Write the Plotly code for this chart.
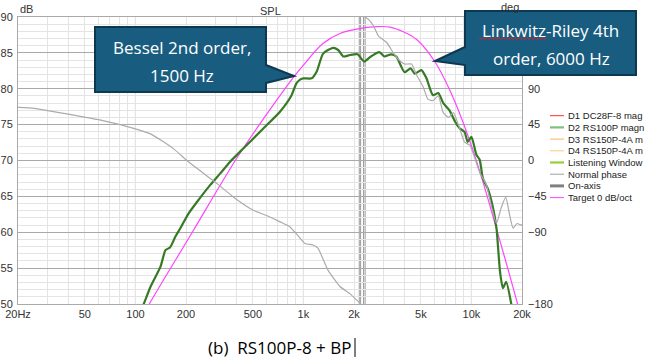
import math
import plotly.graph_objects as go

# ---------------- data ----------------
X_TICKS = [20, 50, 100, 200, 500, 1000, 2000, 5000, 10000, 20000]
X_LABELS = ["20Hz", "50", "100", "200", "500", "1k", "2k", "5k", "10k", "20k"]
X_MINOR = [30, 40, 60, 70, 80, 90, 300, 400, 600, 700, 800, 900,
           3000, 4000, 6000, 7000, 8000, 9000]
DECADES = [100, 1000, 10000]
MARKERS = [2150, 2190, 2280, 2330]
DB_TICKS = [50, 55, 60, 65, 70, 75, 80, 85, 90]
DEG_TICKS = [-180, -135, -90, -45, 0, 45, 90]

# measured SPL (dark green)
MEAS_F = [105, 112, 123, 141, 151, 161, 173, 185, 207, 233, 279, 320, 365, 440,
          579, 725, 850, 908, 960, 1000, 1120, 1200, 1310, 1500, 1610, 1730,
          1890, 2100, 2300, 2520, 2830, 3030, 3330, 3570, 3820, 4000, 4350,
          4600, 5040, 5400, 5900, 6350, 6800, 7400, 8000, 8500, 9100, 9500,
          10000, 10700, 11200, 11700, 12500, 13400, 14100, 14800, 15400,
          16100, 17300, 18000]
MEAS_DB = [48.5, 50.0, 52.4, 55.2, 57.5, 57.9, 59.4, 60.55, 62.6, 64.25, 66.6,
           68.2, 69.8, 71.7, 74.5, 76.8, 79.1, 80.75, 81.3, 81.45, 81.45, 82.4,
           84.9, 85.7, 85.4, 84.5, 84.7, 84.8, 83.8, 84.5, 85.1, 84.5, 84.8,
           84.5, 83.1, 82.3, 82.85, 82.1, 82.6, 81.45, 79.1, 79.4, 78.0, 77.0,
           75.4, 74.5, 74.0, 72.6, 73.3, 70.8, 70.1, 67.5, 66.1, 63.55, 60.55,
           54.5, 52.2, 53.1, 49.9, 47.5]

# target curve (magenta)
TARGET_F = [115, 121, 218, 393, 572, 893, 1000, 1307, 1650, 2070, 2720, 3280,
            3930, 4700, 6050, 7500, 9500, 11700, 14070, 16900, 18900, 20000]
TARGET_DB = [49.0, 50.0, 60.0, 70.0, 75.65, 81.9, 83.3, 86.3, 87.7, 88.3, 88.65,
             88.6, 87.95, 86.9, 83.8, 79.6, 73.55, 67.05, 60.55, 54.0, 49.9, 48.0]

# normal phase (grey, right axis, degrees)
PHASE_F = [20, 25, 39, 64, 93, 123, 169, 205, 306, 384, 504, 604, 726, 829,
           908, 1020, 1140, 1220, 1400, 1650, 1890, 2170, 2200, None,
           2330, 2440, 2610, 2800, 3130, 3430, 3670, 4000, 4400, 4700, 5170,
           5500, 5900, 6350, 6800, 7300, 7800, 8400, 9100, 9800, 10200, 11200,
           12300, 13100, 14100, 15000, 16000, 16900, 17700, 18700, 19800, 20000]
PHASE_DEG = [66.6, 65.4, 58.4, 50, 41.6, 33.4, 14.6, -1, -29, -46, -62.5, -69,
             -77, -83, -92, -104, -106, -110, -137.5, -158, -167, -179, -180,
             None, 180, 177, 169, 156, 148, 135, 127, 121, 121, 108, 92, 77, 75,
             81, 60, 54, 60, 44, 23, 19, 10, -15, -31, -56, -79, -60, -46, -69,
             -85, -79, -81, -80]

# legend labels as visible in the reference (cut at the picture's right edge)
LEGEND_NAMES = ["D1 DC28F-8 mag", "D2 RS100P magn",
                "D3 RS150P-4A m", "D4 RS150P-4A m",
                "Listening Window", "Normal phase", "On-axis", "Target 0 dB/oct"]
LEGEND_COLORS = ["#ff2a2a", "#7fbf7f", "#ffb060", "#ffc878",
                 "#9acd3a", "#a0a0a0", "#808080", "#ff44ff"]
LEGEND_WIDTHS = [1, 2.2, 1, 1, 2.2, 1, 3, 1]

# ---------------- layout helpers ----------------
W, H = 646, 364
L, R, T, B = 18, 522, 17, 304


def px(x):
    return (x - L) / (R - L)


def py(y):
    return (B - y) / (B - T)


GREEN = "#367a26"
MAGENTA = "#ff44ff"
GREY = "#ababab"
MAJOR = "#a9a9a9"
MINOR = "#e4e4e4"
BOXFILL = "#185d80"
BOXLINE = "#0e3850"

fig = go.Figure()

fig.add_trace(go.Scatter(x=PHASE_F, y=PHASE_DEG, yaxis="y2", mode="lines",
                         line=dict(color=GREY, width=1.2, shape="spline", smoothing=0.5),
                         connectgaps=False, name="Normal phase", showlegend=False))
fig.add_trace(go.Scatter(x=TARGET_F, y=TARGET_DB, mode="lines",
                         line=dict(color=MAGENTA, width=1.2, shape="spline", smoothing=1.0),
                         name="Target 0 dB/oct", showlegend=False))
fig.add_trace(go.Scatter(x=MEAS_F, y=MEAS_DB, mode="lines",
                         line=dict(color=GREEN, width=2.2, shape="spline", smoothing=0.6),
                         name="RS100P-8 + BP", showlegend=False))

shapes = []
for d in DECADES:
    shapes.append(dict(type="line", xref="x", yref="paper", x0=d, x1=d, y0=0, y1=1,
                       line=dict(color=MAJOR, width=1), layer="below"))
for m in MARKERS:
    shapes.append(dict(type="line", xref="x", yref="paper", x0=m, x1=m, y0=0, y1=1,
                       line=dict(color="#9a9a9a", width=1), layer="below"))


def path(points):
    s = "M " + " L ".join(f"{px(a):.5f},{py(b):.5f}" for a, b in points) + " Z"
    return s


callout1 = [(95, 27), (266, 27), (266, 65), (294, 76), (266, 83), (266, 92), (95, 92)]
callout2 = [(465, 11), (636, 11), (636, 75), (465, 75), (465, 65), (435, 61), (465, 47)]
for pts in (callout1, callout2):
    shapes.append(dict(type="path", xref="paper", yref="paper", path=path(pts),
                       fillcolor=BOXFILL, line=dict(color=BOXLINE, width=2), layer="above"))

# spell-check squiggle under "Linkwitz"
zz = []
xx = 479
k = 0
while xx <= 547:
    zz.append(f"{px(xx):.5f},{py(37.5 if k % 2 == 0 else 39.5):.5f}")
    xx += 2
    k += 1
shapes.append(dict(type="path", xref="paper", yref="paper",
                   path="M " + " L ".join(zz), line=dict(color="#e02020", width=1),
                   layer="above"))

# text cursor after caption
shapes.append(dict(type="line", xref="paper", yref="paper", x0=px(355), x1=px(355),
                   y0=py(338), y1=py(357), line=dict(color="#000000", width=1)))

annotations = []


def text(x, y, s, size=11, color="#333333", family="Liberation Sans, Arial, sans-serif",
         xanchor="center"):
    annotations.append(dict(x=px(x), y=py(y), xref="paper", yref="paper", text=s,
                            showarrow=False, xanchor=xanchor, yanchor="middle",
                            font=dict(size=size, color=color, family=family)))


text(26.5, 9, "dB")
text(270, 11, "SPL")
text(510, 7, "deg")

CALLFONT = "Open Sans, Noto Sans, sans-serif"
text(181.5, 47.5, "Bessel 2nd order,", 17, "#ffffff", CALLFONT)
text(182, 75.5, "1500 Hz", 17, "#ffffff", CALLFONT)
text(550.5, 30.5, "Linkwitz-Riley 4th", 17, "#ffffff", CALLFONT)
text(551, 58.5, "order, 6000 Hz", 17, "#ffffff", CALLFONT)

text(279.5, 347.5, "(b)\u00a0\u00a0RS100P-8 + BP", 17, "#000000", CALLFONT)

# legend (drawn manually to match the compact swatches)
for i, (nm, col, wd) in enumerate(zip(LEGEND_NAMES, LEGEND_COLORS, LEGEND_WIDTHS)):
    yy = 115.7 + i * 11.7
    shapes.append(dict(type="line", xref="paper", yref="paper", x0=px(550), x1=px(564),
                       y0=py(yy), y1=py(yy), line=dict(color=col, width=wd)))
    text(566, yy, nm, 9.5, "#222222", xanchor="left")

fig.update_layout(
    width=W, height=H, autosize=False,
    margin=dict(l=L, r=W - R, t=T, b=H - B, pad=0, autoexpand=False),
    paper_bgcolor="white", plot_bgcolor="white",
    showlegend=False,
    font=dict(family="Liberation Sans, Arial, sans-serif", size=11, color="#333333"),
    xaxis=dict(type="log", range=[math.log10(20), math.log10(20000)],
               tickmode="array", tickvals=X_TICKS, ticktext=X_LABELS,
               showgrid=True, gridcolor=MINOR, gridwidth=1,
               minor=dict(tickmode="array", tickvals=X_MINOR, showgrid=True,
                          gridcolor=MINOR, gridwidth=1, ticks=""),
               showline=True, linecolor=MAJOR, linewidth=1, mirror=True,
               ticks="", zeroline=False, automargin=False,
               tickfont=dict(size=11, color="#333333")),
    yaxis=dict(range=[50, 90], tickmode="array", tickvals=DB_TICKS,
               showgrid=True, gridcolor=MAJOR, gridwidth=1,
               minor=dict(dtick=1, showgrid=True, gridcolor=MINOR, gridwidth=1, ticks=""),
               showline=True, linecolor=MAJOR, linewidth=1, mirror=True,
               ticks="", zeroline=False, ticklabelstandoff=2, automargin=False,
               tickfont=dict(size=11, color="#333333")),
    yaxis2=dict(range=[-180, 180], overlaying="y", side="right",
                tickmode="array", tickvals=DEG_TICKS[:1] + DEG_TICKS[2:],
                showgrid=False, zeroline=False, ticks="", showline=False,
                ticklabelstandoff=5, automargin=False,
                tickfont=dict(size=11, color="#333333")),
    shapes=shapes,
    annotations=annotations,
)

fig.write_html(
    "out.html",
    config={"displayModeBar": False, "staticPlot": True},
    post_script="document.body.style.margin='0';document.body.style.overflow='hidden';",
)
